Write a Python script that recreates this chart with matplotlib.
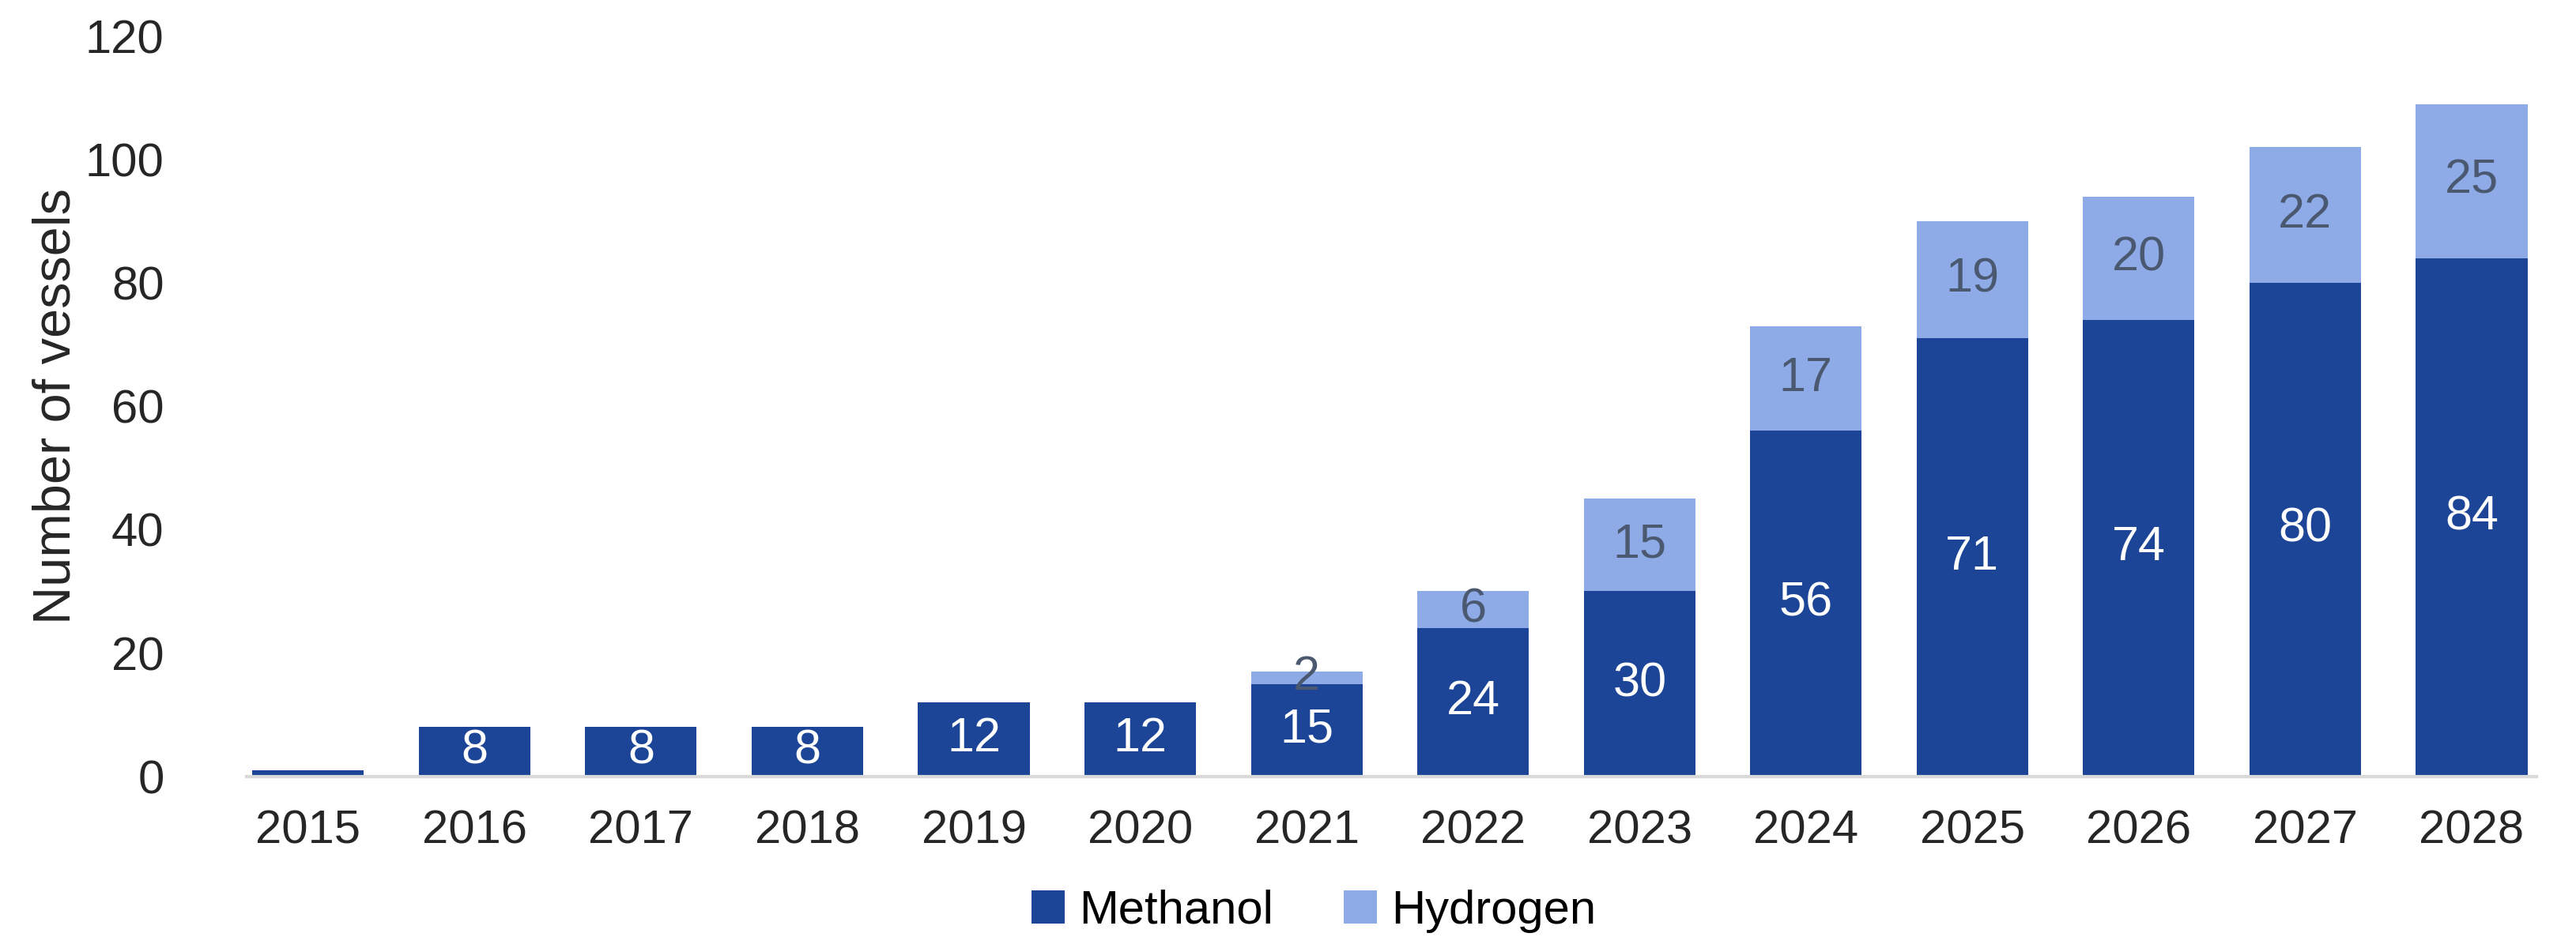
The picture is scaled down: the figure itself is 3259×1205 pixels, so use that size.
import matplotlib.pyplot as plt
import numpy as np

years = ["2015", "2016", "2017", "2018", "2019", "2020", "2021",
         "2022", "2023", "2024", "2025", "2026", "2027", "2028"]
methanol = [1, 8, 8, 8, 12, 12, 15, 24, 30, 56, 71, 74, 80, 84]
hydrogen = [0, 0, 0, 0, 0, 0, 2, 6, 15, 17, 19, 20, 22, 25]

dark_blue = "#1c4597"
light_blue = "#8eabe8"

plt.rcParams["font.family"] = ["Liberation Sans", "DejaVu Sans"]

fig = plt.figure(figsize=(32.59, 12.05), dpi=100)
ax = fig.add_axes([0.0957, 0.1845, 0.889, 0.7775])

x = np.arange(len(years))
b1 = ax.bar(x, methanol, width=0.67, color=dark_blue, label="Methanol")
b2 = ax.bar(x, hydrogen, width=0.67, bottom=methanol, color=light_blue, label="Hydrogen")

# labels inside the segments, skip the tiny / empty ones
m_labels = [str(v) if v > 1 else "" for v in methanol]
h_labels = [str(v) if v > 0 else "" for v in hydrogen]
ax.bar_label(b1, labels=m_labels, label_type="center", color="white", fontsize=44)
ax.bar_label(b2, labels=h_labels, label_type="center", color="#4a5870", fontsize=44)

ax.set_xlim(-0.37, 13.39)
ax.set_ylim(0, 120)
ax.set_yticks(range(0, 121, 20))
ax.set_xticks(x)
ax.set_xticklabels(years)
ax.tick_params(axis="both", length=0, labelsize=43, colors="#262626")
ax.tick_params(axis="y", pad=75)
ax.tick_params(axis="x", pad=30)

for s in ["top", "right", "left"]:
    ax.spines[s].set_visible(False)
ax.spines["bottom"].set_color("#d9d9d9")
ax.spines["bottom"].set_linewidth(3)

ax.set_ylabel("Number of vessels", fontsize=48, color="#262626",
              family=["Liberation Sans Narrow", "Liberation Sans", "DejaVu Sans"])

fig.legend(loc="center", bbox_to_anchor=(0.51, 0.043), ncol=2, frameon=False,
           fontsize=43, handlelength=0.7, handleheight=0.7, columnspacing=1.5,
           handletextpad=0.3)

fig.savefig("out.png", dpi=100)
